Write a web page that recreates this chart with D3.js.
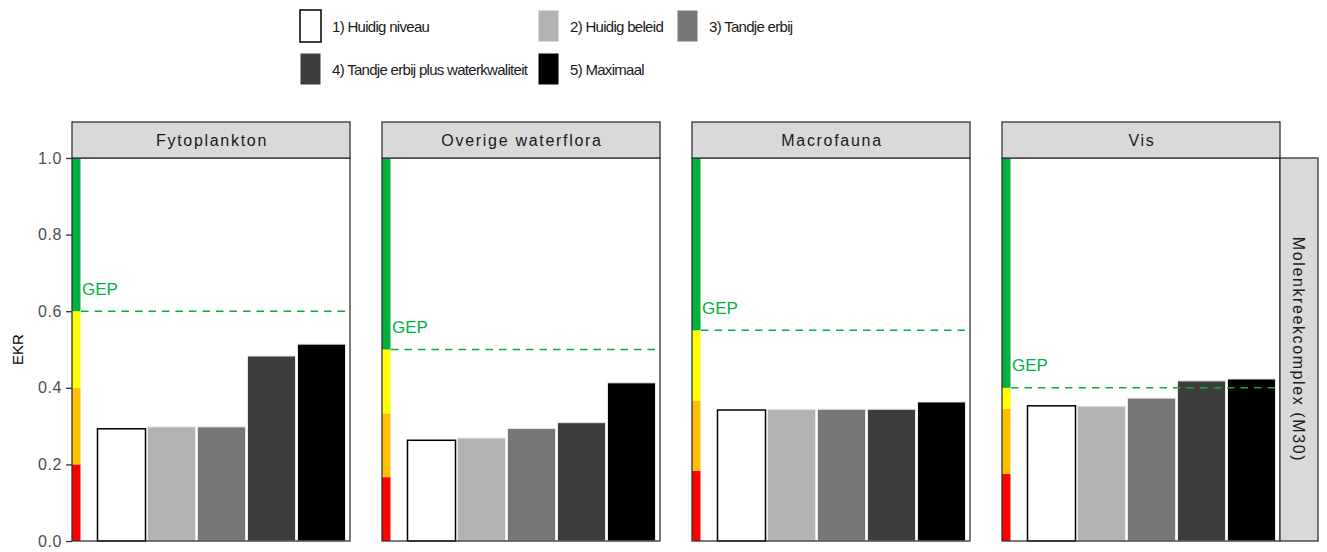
<!DOCTYPE html>
<html>
<head>
<meta charset="utf-8">
<script src="https://cdn.jsdelivr.net/npm/d3@7"></script>
<style>
  body { margin: 0; background: #fff; }
  text { font-family: "Liberation Sans", Arial, sans-serif; }
</style>
</head>
<body>
<script>
/* Data */
var panels = ["Fytoplankton", "Overige waterflora", "Macrofauna", "Vis"];
var scenarios = ["1) Huidig niveau", "2) Huidig beleid", "3) Tandje erbij",
                 "4) Tandje erbij plus waterkwaliteit", "5) Maximaal"];
var fytoplankton = [0.293, 0.298, 0.298, 0.483, 0.514];
var waterflora   = [0.263, 0.269, 0.294, 0.309, 0.413];
var macrofauna   = [0.342, 0.344, 0.344, 0.344, 0.363];
var vis          = [0.353, 0.352, 0.373, 0.418, 0.423];
var gep          = [0.6, 0.5, 0.55, 0.4];
// upper bound of red and orange class per panel
var redTop    = [0.2, 0.1667, 0.1833, 0.175];
var orangeTop = [0.4, 0.3333, 0.3667, 0.345];
var yTicks = [0, 0.2, 0.4, 0.6, 0.8, 1.0];
var rowLabel = "Molenkreekcomplex (M30)";

var series = [fytoplankton, waterflora, macrofauna, vis];

/* Sizes */
var width = 1327, height = 552;
var plotTop = 158, plotBottom = 541, stripTop = 122;
var panelX = [72, 382, 692, 1002], panelW = 278;

var barFill = ["#ffffff", "#b3b3b3", "#777777", "#3d3d3d", "#000000"];
var green = "#00b13f", yellow = "#ffff00", orange = "#ffc000", red = "#ff0000";

var svg = d3.select("body").append("svg")
    .attr("width", width)
    .attr("height", height);

var y = d3.scaleLinear().domain([0, 1]).range([plotBottom, plotTop]);

/* Legend */
var legendPos = [[300, 10], [538, 10], [677, 10], [300, 53], [538, 53]];
var legend = svg.append("g");
scenarios.forEach(function(s, i) {
    var p = legendPos[i];
    legend.append("rect")
        .attr("x", p[0]).attr("y", p[1])
        .attr("width", 21).attr("height", 32)
        .attr("fill", barFill[i])
        .attr("stroke", i === 0 ? "#000" : "#fff")
        .attr("stroke-width", i === 0 ? 1.5 : 1);
    legend.append("text")
        .attr("x", p[0] + 32).attr("y", p[1] + 21.5)
        .attr("font-size", "15px")
        .attr("letter-spacing", "-0.7px")
        .attr("fill", "#1a1a1a")
        .text(s);
});

/* Panels */
panels.forEach(function(name, k) {
    var left = panelX[k], right = left + panelW;
    var g = svg.append("g");

    var x = d3.scaleBand()
        .domain(scenarios)
        .range([left + 25.5, right - 4.5])
        .paddingInner(0.04);

    // background
    g.append("rect")
        .attr("x", left).attr("y", plotTop)
        .attr("width", panelW).attr("height", plotBottom - plotTop)
        .attr("fill", "#fff");

    // quality class stripe
    var bands = [[0, redTop[k], red], [redTop[k], orangeTop[k], orange],
                 [orangeTop[k], gep[k], yellow], [gep[k], 1, green]];
    g.selectAll(".band").data(bands).enter().append("rect")
        .attr("x", left).attr("width", 8.5)
        .attr("y", function(d) { return y(d[1]); })
        .attr("height", function(d) { return y(d[0]) - y(d[1]); })
        .attr("fill", function(d) { return d[2]; });

    // bars
    g.selectAll(".bar").data(series[k]).enter().append("rect")
        .attr("x", function(d, i) { return x(scenarios[i]); })
        .attr("width", x.bandwidth())
        .attr("y", function(d) { return y(d); })
        .attr("height", function(d) { return y(0) - y(d); })
        .attr("fill", function(d, i) { return barFill[i]; })
        .attr("stroke", function(d, i) { return i === 0 ? "#000" : "#e8e8e8"; })
        .attr("stroke-width", function(d, i) { return i === 0 ? 1.5 : 1; });

    // GEP line and label
    g.append("line")
        .attr("x1", left + 9).attr("x2", right)
        .attr("y1", y(gep[k])).attr("y2", y(gep[k]))
        .attr("stroke", green).attr("stroke-width", 1.5)
        .attr("stroke-dasharray", "7.5,6");
    g.append("text")
        .attr("x", left + 10).attr("y", y(gep[k]) - 16.5)
        .attr("font-size", "17px")
        .attr("fill", green)
        .text("GEP");

    // panel border
    g.append("rect")
        .attr("x", left).attr("y", plotTop)
        .attr("width", panelW).attr("height", plotBottom - plotTop)
        .attr("fill", "none").attr("stroke", "#333").attr("stroke-width", 1.3);

    // strip
    g.append("rect")
        .attr("x", left).attr("y", stripTop)
        .attr("width", panelW).attr("height", plotTop - stripTop)
        .attr("fill", "#d9d9d9").attr("stroke", "#333").attr("stroke-width", 1.3);
    g.append("text")
        .attr("x", left + panelW / 2 + 1).attr("y", (stripTop + plotTop) / 2 + 5.5)
        .attr("text-anchor", "middle")
        .attr("font-size", "16px")
        .attr("letter-spacing", "1.7px")
        .attr("fill", "#1a1a1a")
        .text(name);
});

/* Right strip */
var rs = svg.append("g");
rs.append("rect")
    .attr("x", 1280).attr("y", plotTop)
    .attr("width", 38).attr("height", plotBottom - plotTop)
    .attr("fill", "#d9d9d9").attr("stroke", "#333").attr("stroke-width", 1.3);
rs.append("text")
    .attr("transform", "translate(1293," + ((plotTop + plotBottom) / 2) + ") rotate(90)")
    .attr("text-anchor", "middle")
    .attr("font-size", "16px")
    .attr("letter-spacing", "1.6px")
    .attr("fill", "#1a1a1a")
    .text(rowLabel);

/* Y axis */
var yAxis = d3.axisLeft(y)
    .tickValues(yTicks)
    .tickSize(6)
    .tickPadding(4)
    .tickFormat(d3.format(".1f"));
var ag = svg.append("g")
    .attr("transform", "translate(72,0)")
    .call(yAxis);
ag.select(".domain").remove();
ag.selectAll(".tick line").attr("stroke", "#333").attr("stroke-width", 1.3);
ag.selectAll(".tick text")
    .attr("font-size", "16px")
    .attr("letter-spacing", "0.6px")
    .attr("fill", "#4d4d4d")
    .attr("font-family", "Liberation Sans, Arial, sans-serif");

svg.append("text")
    .attr("transform", "translate(23," + ((plotTop + plotBottom) / 2) + ") rotate(-90)")
    .attr("text-anchor", "middle")
    .attr("font-size", "15px")
    .attr("fill", "#000")
    .text("EKR");
</script>
</body>
</html>
